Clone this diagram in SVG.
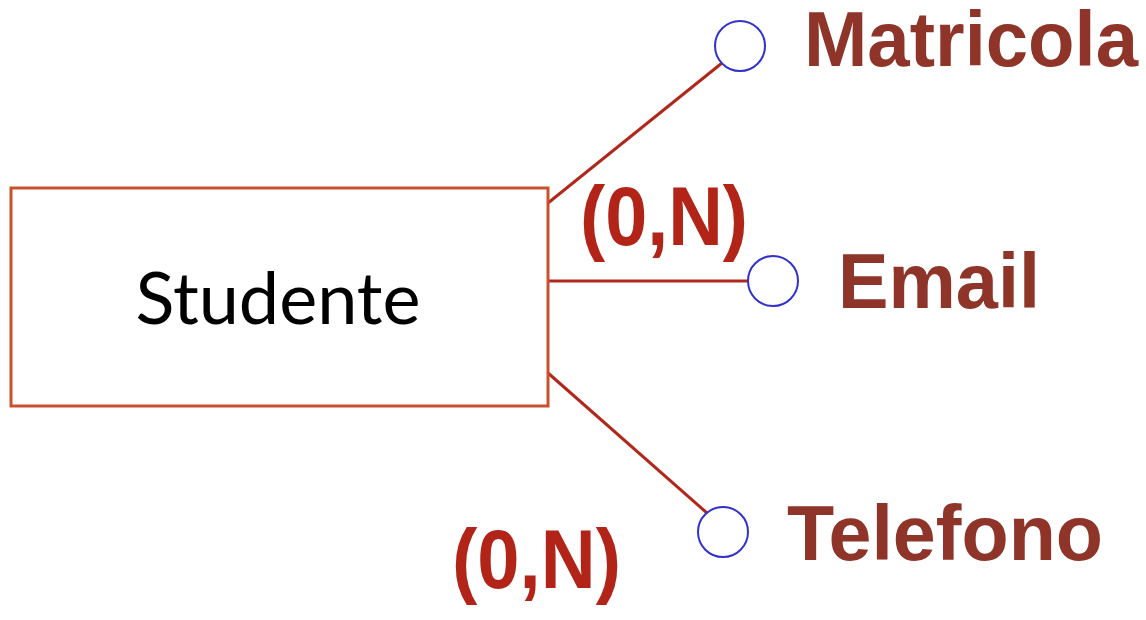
<svg xmlns="http://www.w3.org/2000/svg" width="1146" height="620" viewBox="0 0 1146 620">
<style>
.attr{fill:#fff;stroke:#3333CC;stroke-width:2}
.conn{stroke:#B0281C;stroke-width:3;fill:none}
.lbl{font-family:"Liberation Sans",Arial,sans-serif;font-weight:bold;font-size:77px;fill:#8F3428}
.card{font-family:"Liberation Sans",Arial,sans-serif;font-weight:bold;font-size:83px;fill:#B22418}
</style>
<rect width="1146" height="620" fill="#fff"/>
<g id="connectors">
<line class="conn" x1="548" y1="203" x2="722" y2="63"/>
<line class="conn" x1="548" y1="281" x2="748" y2="281"/>
<line class="conn" x1="548" y1="373" x2="707" y2="513"/>
</g>
<g id="studente">
<rect x="11" y="188" width="537" height="218" fill="#fff" stroke="#C9522E" stroke-width="3"/>
<text x="278" y="324" text-anchor="middle" font-family="Lato,'Open Sans',sans-serif" font-size="72" fill="#000" textLength="285" lengthAdjust="spacingAndGlyphs">Studente</text>
</g>
<g id="matricola">
<circle class="attr" cx="740" cy="46" r="25"/>
<text class="lbl" x="804" y="66" textLength="334" lengthAdjust="spacingAndGlyphs">Matricola</text>
</g>
<g id="email">
<circle class="attr" cx="773" cy="281" r="25"/>
<text class="lbl" x="838" y="308" textLength="202" lengthAdjust="spacingAndGlyphs">Email</text>
<text class="card" x="580" y="245" textLength="168" lengthAdjust="spacingAndGlyphs">(0,N)</text>
</g>
<g id="telefono">
<circle class="attr" cx="723" cy="532" r="25"/>
<text class="lbl" x="787" y="560" textLength="316" lengthAdjust="spacingAndGlyphs">Telefono</text>
<text class="card" x="452" y="588" textLength="169" lengthAdjust="spacingAndGlyphs">(0,N)</text>
</g>
</svg>
